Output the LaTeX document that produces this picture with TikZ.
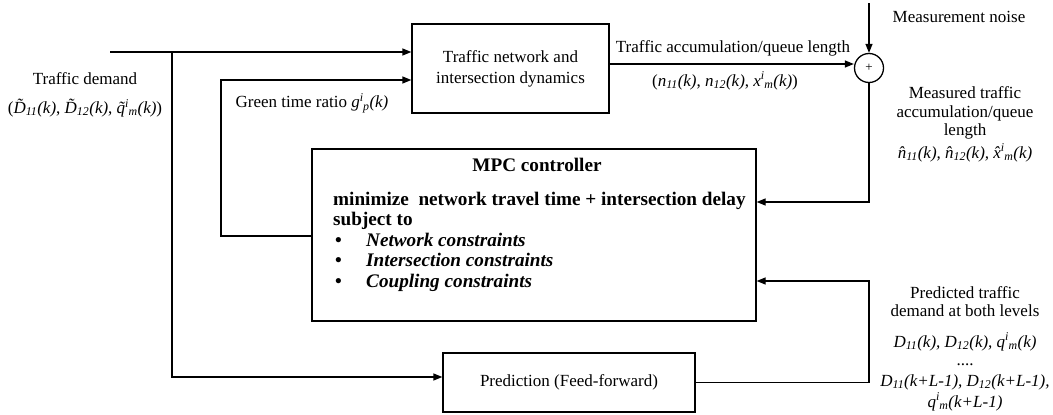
\documentclass[tikz,border=0pt]{standalone}
\usepackage{fontspec}
\setmainfont{Liberation Serif}
\usetikzlibrary{arrows.meta}
\tikzset{
  arr/.style={-{Triangle[length=9pt,width=7pt]}, line width=1.3pt},
  box/.style={draw, line width=1.3pt, inner sep=0pt},
  lbl/.style={font=\fontsize{17}{21}\selectfont, inner sep=0pt},
  bl/.style={font=\fontsize{19.2}{21}\bfseries\selectfont, inner sep=0pt, anchor=base west},
}
\newcommand{\supsub}[2]{\textsuperscript{#1}\kern-0.5pt\textsubscript{#2}}
\begin{document}
\begin{tikzpicture}[x=1pt,y=-1pt]
\useasboundingbox (0,0) rectangle (1053,415);
% blocks
\node[box, lbl, minimum width=197pt, minimum height=89pt, align=center] (tn) at (510.5,68.5) {Traffic network and\\intersection dynamics};
\node[box, minimum width=444pt, minimum height=172pt] (mpc) at (534,235) {};
\node[box, lbl, minimum width=252pt, minimum height=59pt] (pred) at (569,382.5) {Prediction (Feed-forward)};
\node[draw, circle, line width=1.3pt, minimum size=29pt, inner sep=0pt, font=\fontsize{13}{13}\selectfont] (sum) at (869,68) {+};
% MPC text
\node[font=\fontsize{19.2}{21}\bfseries\selectfont, inner sep=0pt] (mpct) at (537,165) {MPC controller};
\node[bl] (obj) at (333,205) {minimize\ \ network travel time + intersection delay};
\node[bl] (st) at (333,225) {subject to};
\node[bl] (b1) at (335,246) {•};
\node[bl] (c1) at (366,246) {\itshape Network constraints};
\node[bl] (b2) at (335,266) {•};
\node[bl] (c2) at (366,266) {\itshape Intersection constraints};
\node[bl] (b3) at (335,287) {•};
\node[bl] (c3) at (366,287) {\itshape Coupling constraints};
% labels
\node[lbl] (td) at (85,79) {Traffic demand};
\node[lbl] (tdf) at (85,108) {(\textit{\~{D}\textsubscript{11}(k)}, \textit{\~{D}\textsubscript{12}(k)}, \textit{\~{q}\supsub{i}{m}(k)})};
\node[lbl] (gl) at (312,103) {Green time ratio \textit{g\supsub{i}{p}(k)}};
\node[lbl] (al) at (733,48) {Traffic accumulation/queue length};
\node[lbl] (af) at (725,81) {(\textit{n\textsubscript{11}(k)}, \textit{n\textsubscript{12}(k)}, \textit{x\supsub{i}{m}(k)})};
\node[lbl] (noise) at (959,17) {Measurement noise};
\node[lbl, align=center, font=\fontsize{17}{18.5}\selectfont] (meas) at (965,113) {Measured traffic\\accumulation/queue\\length};
\node[lbl] (measf) at (965,153) {\textit{\^{n}\textsubscript{11}(k), \^{n}\textsubscript{12}(k), \^{x}\supsub{i}{m}(k)}};
\node[lbl, align=center, font=\fontsize{17}{18}\selectfont] (pl) at (965,302) {Predicted traffic\\demand at both levels};
\node[lbl] (pf1) at (965,342) {\textit{D\textsubscript{11}(k), D\textsubscript{12}(k), q\supsub{i}{m}(k)}};
\node[lbl, anchor=base, text height=2pt, text depth=0pt] (pf2) at (965,365) {....};
\node[lbl] (pf3) at (965,382) {\textit{D\textsubscript{11}(k+L-1), D\textsubscript{12}(k+L-1),}};
\node[lbl] (pf4) at (965,402) {\textit{q\supsub{i}{m}(k+L-1)}};
% connectors
\coordinate (src) at (110,52);
\coordinate (br) at (172,52);
\coordinate (gc) at (221,80);
\coordinate (ns) at (869,3);
\draw[arr] (src) -- (tn.west |- src);
\draw[arr] (br) |- ([yshift=5.5pt]pred.west);
\draw[arr] (mpc.west |- 0,236) -| (gc) -- (tn.west |- gc);
\draw[arr] (tn.east |- 0,64) -- (sum.west |- 0,64);
\draw[arr] (ns) -- (sum.north);
\draw[arr] (sum.south) |- (mpc.east |- 0,202);
\draw[arr] (pred.east) -| (sum.south |- 0,281) -- (mpc.east |- 0,281);
\end{tikzpicture}
\end{document}
